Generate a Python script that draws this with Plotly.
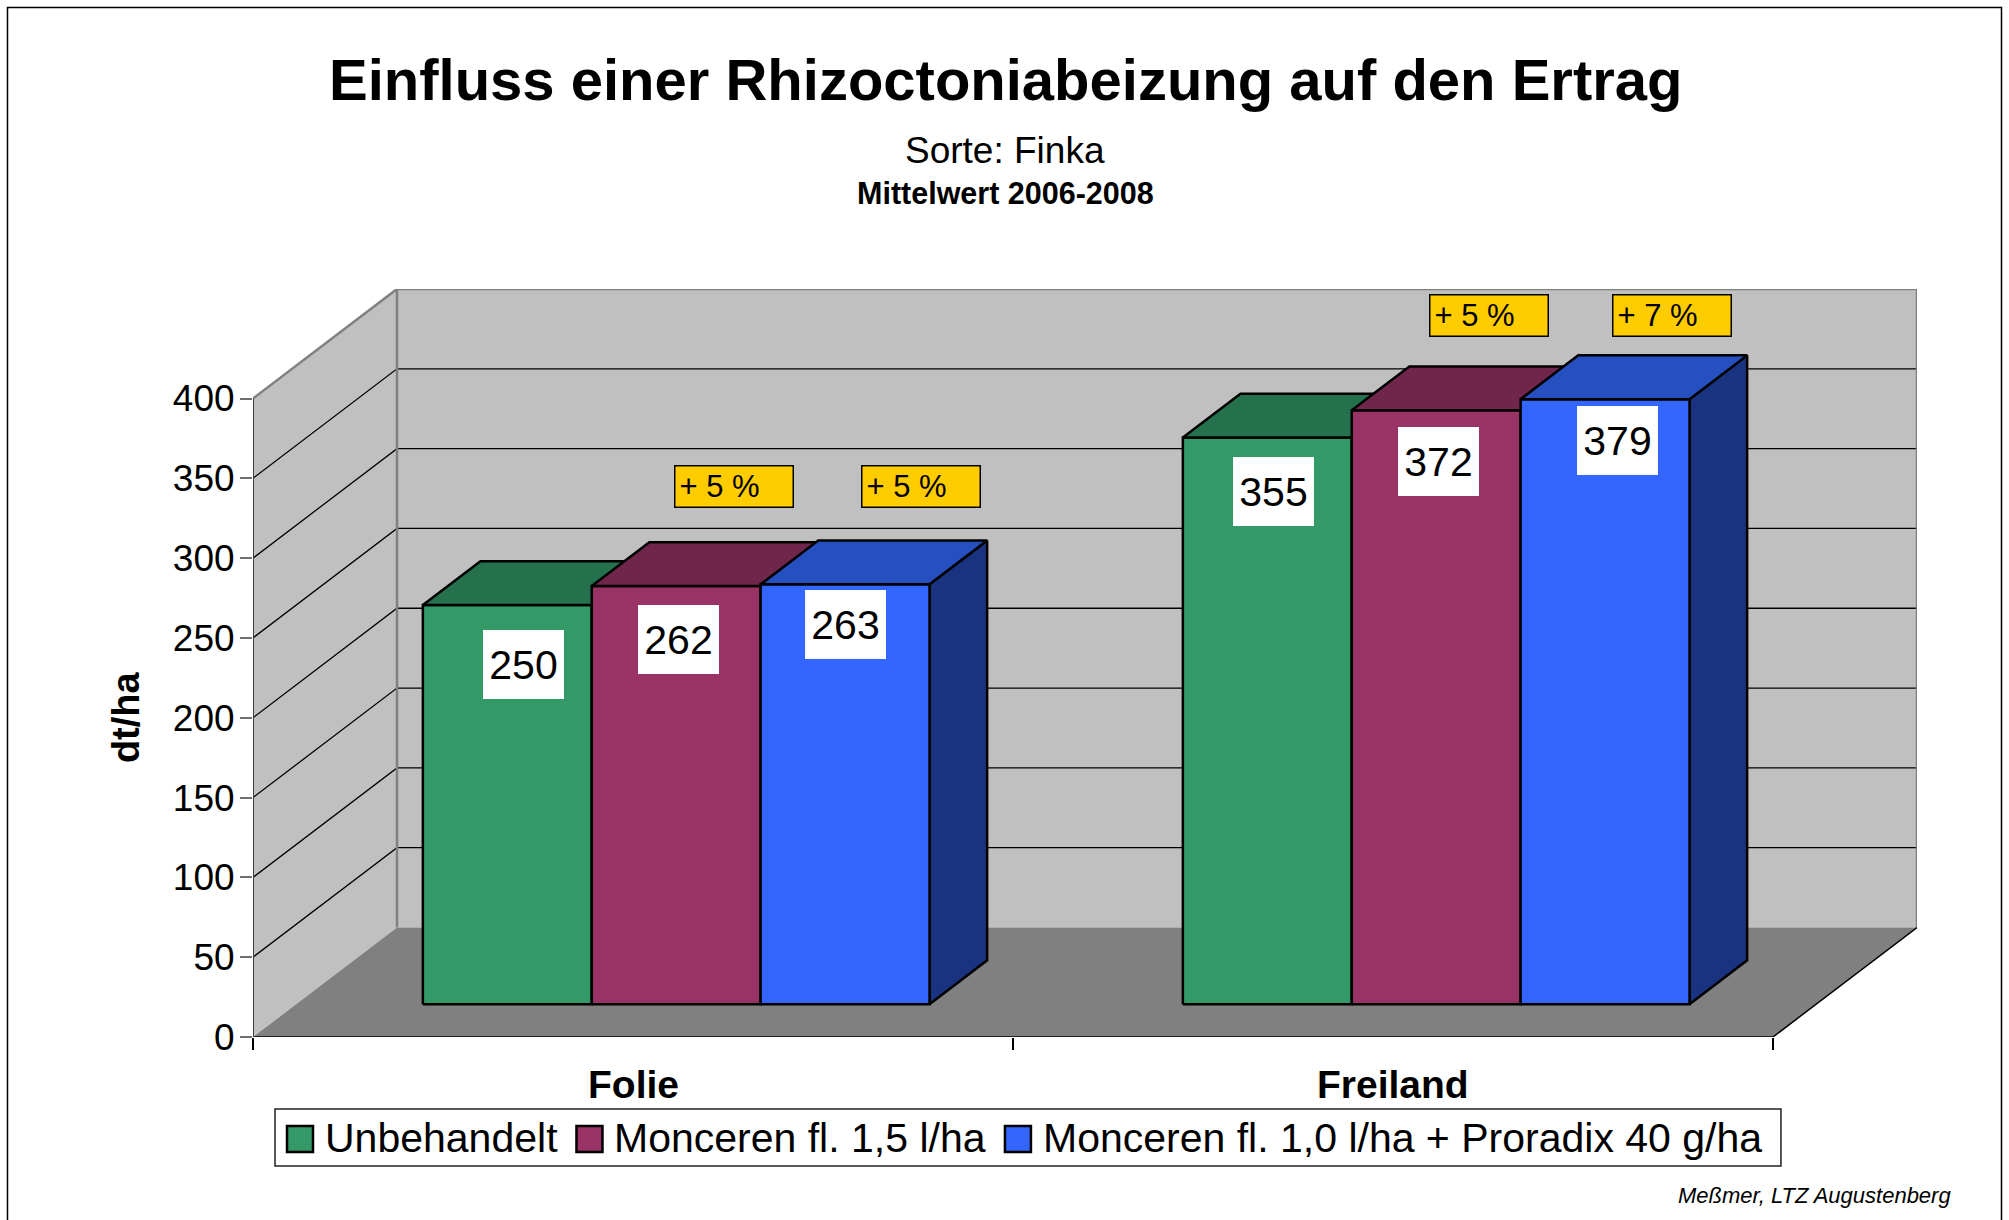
import plotly.graph_objects as go

# ---------------- data ----------------
categories = ["Folie", "Freiland"]
series_names = ["Unbehandelt", "Monceren fl. 1,5 l/ha",
                "Monceren fl. 1,0 l/ha + Proradix 40 g/ha"]
unbehandelt = [250, 355]
monceren_15 = [262, 372]
monceren_proradix = [263, 379]
y_ticks = [0, 50, 100, 150, 200, 250, 300, 350, 400]
y_max = 400

series_values = [unbehandelt, monceren_15, monceren_proradix]

# ---------------- style ----------------
FONT = "Liberation Sans, Arial, Helvetica, sans-serif"
front_colors = ["#339966", "#993366", "#3366FF"]
top_colors = ["#25714D", "#70254A", "#2650C0"]
side_colors = ["#1A4D33", "#4D1A33", "#1A3380"]
WALL = "#C0C0C0"
FLOOR = "#808080"

W, H = 2009, 1220
PLOT_L, PLOT_R, PLOT_T, PLOT_B = 253, 1917, 289, 1037
DEPTH_PX_X, DEPTH_PX_Y = 144, 109.5
n_cat = len(categories)
n_ser = len(series_values)
px_per_cat = (PLOT_R - PLOT_L - DEPTH_PX_X) / n_cat
px_per_unit = (PLOT_B - PLOT_T - DEPTH_PX_Y) / y_max
DX = DEPTH_PX_X / px_per_cat
DY = DEPTH_PX_Y / px_per_unit
GAP = 1.5
BW = 1.0 / (n_ser + GAP)
OFF = GAP * BW / 2
D0, D1 = 0.3, 0.7

# per-label nudges in px (xshift, yshift) as in the original layout
LABEL_SHIFT = [[(16, -59), (2, -54), (0, -40)],
               [(6, -54), (2, -51), (12, -41)]]
GAIN_SHIFT = [[None, (58, 99), (76, 98)],
              [None, (53, 95), (67, 84)]]


def proj(x, y, d):
    return x + d * DX, y + d * DY


def px_x(p):
    return (p - PLOT_L) / (PLOT_R - PLOT_L)


def px_y(p):
    return (PLOT_B - p) / (PLOT_B - PLOT_T)


def poly(pts, fill, line_color=None, width=0):
    xs = [p[0] for p in pts] + [pts[0][0]]
    ys = [p[1] for p in pts] + [pts[0][1]]
    return go.Scatter(x=xs, y=ys, mode="lines", fill="toself", fillcolor=fill,
                      line=dict(color=line_color or fill, width=width),
                      hoverinfo="skip", showlegend=False)


def path(xs, ys, color, width):
    return go.Scatter(x=xs, y=ys, mode="lines", line=dict(color=color, width=width),
                      hoverinfo="skip", showlegend=False)


fig = go.Figure()
top = y_max
# walls & floor
fig.add_trace(poly([proj(0, 0, 0), proj(0, 0, 1), proj(0, top, 1), proj(0, top, 0)], WALL))
fig.add_trace(poly([proj(0, 0, 1), proj(n_cat, 0, 1), proj(n_cat, top, 1), proj(0, top, 1)], WALL))
fig.add_trace(poly([proj(0, 0, 0), proj(n_cat, 0, 0), proj(n_cat, 0, 1), proj(0, 0, 1)], FLOOR))

# gridlines
gx, gy = [], []
for v in y_ticks:
    if v == 0 or v == y_max:
        continue
    for p in [proj(0, v, 0), proj(0, v, 1), proj(n_cat, v, 1)]:
        gx.append(p[0]); gy.append(p[1])
    gx.append(None); gy.append(None)
fig.add_trace(path(gx, gy, "#000000", 1.3))

# wall edges (gray)
e = [proj(0, top, 0), proj(0, top, 1), proj(n_cat, top, 1), proj(n_cat, 0, 1)]
fig.add_trace(path([p[0] for p in e], [p[1] for p in e], "#808080", 2.5))
e = [proj(0, 0, 1), proj(0, top, 1)]
fig.add_trace(path([p[0] for p in e], [p[1] for p in e], "#808080", 2.5))
# floor edges
e = [proj(0, 0, 0), proj(n_cat, 0, 0), proj(n_cat, 0, 1)]
fig.add_trace(path([p[0] for p in e], [p[1] for p in e], "#000000", 1.5))
e = [proj(0, 0, 0), proj(0, top, 0)]
fig.add_trace(path([p[0] for p in e], [p[1] for p in e], "#404040", 2))

# bars
annotations = []
for i in range(n_cat):
    base = series_values[0][i]
    for j in range(n_ser):
        v = series_values[j][i]
        x0 = i + OFF + j * BW
        x1 = x0 + BW
        fig.add_trace(poly([proj(x1, 0, D0), proj(x1, 0, D1), proj(x1, v, D1), proj(x1, v, D0)],
                           side_colors[j], "#000000", 2.5))
        fig.add_trace(poly([proj(x0, 0, D0), proj(x1, 0, D0), proj(x1, v, D0), proj(x0, v, D0)],
                           front_colors[j], "#000000", 2.5))
        fig.add_trace(poly([proj(x0, v, D0), proj(x1, v, D0), proj(x1, v, D1), proj(x0, v, D1)],
                           top_colors[j], "#000000", 2.5))
        cx, cy = proj(x0 + BW / 2, v, D0)
        sx, sy = LABEL_SHIFT[i][j]
        annotations.append(dict(x=cx, y=cy, xref="x", yref="y", text=str(v), showarrow=False,
                                xanchor="center", yanchor="middle", xshift=sx, yshift=sy,
                                width=81, height=69, bgcolor="#FFFFFF", borderpad=0, borderwidth=0,
                                font=dict(family=FONT, size=41, color="#000000")))
        if j > 0:
            pct = round((v / base - 1) * 100)
            gsx, gsy = GAIN_SHIFT[i][j]
            annotations.append(dict(x=cx, y=cy, xref="x", yref="y", text=f"+ {pct} %",
                                    showarrow=False, xanchor="center", yanchor="middle",
                                    xshift=gsx, yshift=gsy, width=109, height=31.5, align="left",
                                    bgcolor="#FFCC00", bordercolor="#000000", borderwidth=1.5,
                                    borderpad=4,
                                    font=dict(family=FONT, size=31, color="#000000")))

# category labels
for i, c in enumerate(categories):
    annotations.append(dict(x=i + 0.5, y=px_y(1084), xref="x", yref="paper", text=f"<b>{c}</b>",
                            showarrow=False, xanchor="center", yanchor="middle",
                            font=dict(family=FONT, size=39, color="#000000")))

# titles
annotations += [
    dict(x=px_x(1005), y=px_y(79), text="<b>Einfluss einer Rhizoctoniabeizung auf den Ertrag</b>",
         font=dict(family=FONT, size=58, color="#000000")),
    dict(x=px_x(1005), y=px_y(150), text="Sorte: Finka",
         font=dict(family=FONT, size=37, color="#000000")),
    dict(x=px_x(1005), y=px_y(192.5), text="<b>Mittelwert 2006-2008</b>",
         font=dict(family=FONT, size=30.5, color="#000000")),
    dict(x=px_x(125.6), y=px_y(717.5), text="<b>dt/ha</b>", textangle=-90,
         font=dict(family=FONT, size=38, color="#000000")),
    dict(x=px_x(1953), y=px_y(1195.5), text="<i>Meßmer, LTZ Augustenberg</i>", xanchor="right",
         font=dict(family=FONT, size=22, color="#000000")),
]
for a in annotations[-5:]:
    a.update(xref="paper", yref="paper", showarrow=False, yanchor="middle")
    a.setdefault("xanchor", "center")

# manual legend
ARIAL = {' ': 278, '+': 584, ',': 278, '.': 278, '/': 278, 'M': 833, 'P': 667, 'U': 722,
         'a': 556, 'b': 556, 'c': 500, 'd': 556, 'e': 556, 'f': 278, 'g': 556, 'h': 556,
         'i': 222, 'l': 222, 'n': 556, 'o': 556, 'r': 333, 't': 278, 'x': 500}


def text_w(s, size):
    return sum(ARIAL.get(ch, 556) for ch in s) / 1000 * size


LEG_FS = 41
LEG_L, LEG_T, LEG_B = 275, 1109, 1166
KEY = 26
KEY_CY = 1139
shapes = []
xcur = LEG_L + 12
for j, name in enumerate(series_names):
    shapes.append(dict(type="rect", xref="paper", yref="paper",
                       x0=px_x(xcur), x1=px_x(xcur + KEY),
                       y0=px_y(KEY_CY + KEY / 2), y1=px_y(KEY_CY - KEY / 2),
                       fillcolor=front_colors[j], line=dict(color="#000000", width=2.5)))
    tx = xcur + KEY + 12
    annotations.append(dict(x=px_x(tx), y=px_y(1137.5), xref="paper", yref="paper", text=name,
                            showarrow=False, xanchor="left", yanchor="middle", borderpad=0,
                            borderwidth=0, font=dict(family=FONT, size=LEG_FS, color="#000000")))
    xcur = tx + text_w(name, LEG_FS) + 19
LEG_R = xcur
shapes.insert(0, dict(type="rect", xref="paper", yref="paper", x0=px_x(LEG_L), x1=px_x(LEG_R),
                      y0=px_y(LEG_B), y1=px_y(LEG_T), fillcolor="#FFFFFF",
                      line=dict(color="#202020", width=1.5), layer="below"))
# outer border of the chart
shapes.append(dict(type="rect", xref="paper", yref="paper", x0=px_x(7.5), x1=px_x(2001.5),
                   y0=px_y(1240), y1=px_y(7.5), line=dict(color="#000000", width=1.5)))

fig.update_layout(
    width=W, height=H,
    margin=dict(l=PLOT_L, r=W - PLOT_R, t=PLOT_T, b=H - PLOT_B, autoexpand=False),
    paper_bgcolor="#FFFFFF", plot_bgcolor="rgba(0,0,0,0)",
    showlegend=False,
    xaxis=dict(range=[0, n_cat + DX], tickvals=list(range(n_cat + 1)), showticklabels=False,
               ticks="outside", ticklen=12, tickwidth=1.5, tickcolor="#000000",
               showgrid=False, zeroline=False, showline=False, fixedrange=True),
    yaxis=dict(range=[0, y_max + DY], tickvals=y_ticks, ticks="outside", ticklen=12,
               tickwidth=2, tickcolor="#707070", ticklabelstandoff=-2,
               tickfont=dict(family=FONT, size=37, color="#000000"),
               showgrid=False, zeroline=False, showline=False, fixedrange=True),
    annotations=annotations,
    shapes=shapes,
    font=dict(family=FONT),
)

fig.write_html("out.html", config={"displayModeBar": False},
               post_script="document.body.style.margin='0';document.body.style.overflow='hidden';")
